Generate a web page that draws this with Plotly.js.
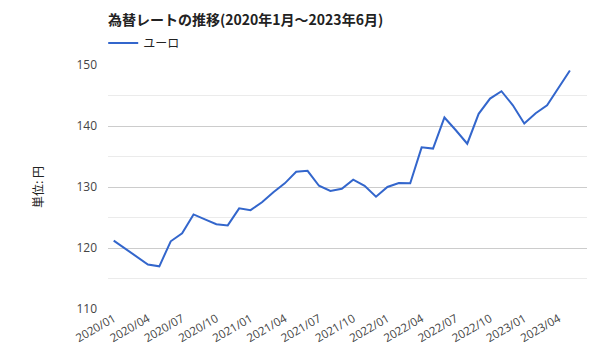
<!DOCTYPE html>
<html>
<head>
<meta charset="utf-8">
<script src="https://cdn.plot.ly/plotly-3.0.1.min.js"></script>
<style>html,body{margin:0;padding:0;background:#fff}#chart{width:600px;height:360px}</style>
</head>
<body>
<div id="chart"></div>
<script>
const months = [
  "2020/01","2020/02","2020/03","2020/04","2020/05","2020/06","2020/07","2020/08","2020/09","2020/10","2020/11","2020/12",
  "2021/01","2021/02","2021/03","2021/04","2021/05","2021/06","2021/07","2021/08","2021/09","2021/10","2021/11","2021/12",
  "2022/01","2022/02","2022/03","2022/04","2022/05","2022/06","2022/07","2022/08","2022/09","2022/10","2022/11","2022/12",
  "2023/01","2023/02","2023/03","2023/04","2023/05","2023/06"
];
const euroValues = [
  121.2, 119.9, 118.6, 117.3, 117.0, 121.1, 122.4, 125.5, 124.7, 123.9, 123.7, 126.5,
  126.2, 127.5, 129.15, 130.6, 132.5, 132.65, 130.2, 129.35, 129.7, 131.2, 130.2, 128.4,
  130.0, 130.65, 130.6, 136.5, 136.3, 141.4, 139.3, 137.1, 142.0, 144.5, 145.7, 143.4,
  140.4, 142.1, 143.4, 146.3, 149.1, null
];
const tickLabels = months.filter((m, i) => i % 3 === 0);
const seriesName = "ユーロ";
const chartTitle = "為替レートの推移(2020年1月～2023年6月)";
const yTitle = "単位: 円";

const fontFam = "'Open Sans', 'Noto Sans CJK JP', sans-serif";

Plotly.newPlot("chart", [{
  type: "scatter",
  mode: "lines",
  x: months,
  y: euroValues,
  name: seriesName,
  line: {color: "#3366cc", width: 2},
  connectgaps: false
}], {
  width: 600, height: 360,
  margin: {l: 108, r: 13, t: 65, b: 51},
  paper_bgcolor: "#fff", plot_bgcolor: "#fff",
  font: {family: fontFam, size: 12, color: "#444"},
  title: {
    text: "<b>" + chartTitle + "</b>",
    font: {family: "'Noto Sans CJK JP', sans-serif", size: 14, color: "#222"},
    xref: "paper", x: 0, xanchor: "left",
    yref: "container", y: 1 - 20/360, yanchor: "middle"
  },
  showlegend: true,
  legend: {
    orientation: "h", x: -0.01, xanchor: "left", y: 1.09, yanchor: "middle",
    font: {family: "'Noto Sans CJK JP', sans-serif", size: 12, color: "#222"},
    itemwidth: 30
  },
  xaxis: {
    type: "category",
    categoryorder: "array", categoryarray: months,
    range: [-0.5, 41.5],
    tickmode: "array", tickvals: tickLabels, ticktext: tickLabels,
    tickangle: -30,
    showgrid: false, zeroline: false, showline: false,
    ticks: "", ticklen: 0,
    tickfont: {size: 11.5, color: "#444"}
  },
  yaxis: {
    range: [110, 150],
    dtick: 10,
    showgrid: true, gridcolor: "#cccccc", gridwidth: 1,
    minor: {dtick: 5, showgrid: true, gridcolor: "#ebebeb", gridwidth: 1},
    zeroline: false, showline: false,
    ticks: "", ticklabelstandoff: 10,
    tickfont: {size: 12, color: "#444"},
    title: {text: yTitle, font: {family: "'Noto Sans CJK JP', sans-serif", size: 12, color: "#222"}, standoff: 30}
  }
}, {displayModeBar: false, staticPlot: true});
</script>
</body>
</html>
